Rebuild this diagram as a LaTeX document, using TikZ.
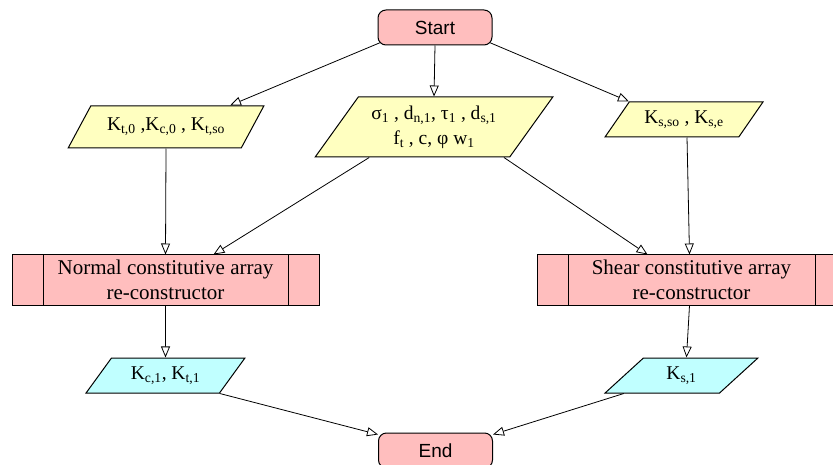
\documentclass[tikz,border=0pt]{standalone}
\usepackage{fontspec}
\setmainfont{Liberation Serif}
\newfontfamily\labelsans{Liberation Sans}
\usetikzlibrary{shapes.geometric,arrows.meta}

\definecolor{termpink}{RGB}{255,190,190}
\definecolor{inyellow}{RGB}{255,255,192}
\definecolor{outcyan}{RGB}{192,255,255}

\begin{document}
\begin{tikzpicture}[
    x=1pt, y=-1pt,
    terminal/.style={rectangle, rounded corners=8pt, draw, fill=termpink, line width=1pt,
      minimum width=114pt, minimum height=35pt, font=\labelsans\fontsize{19}{22}\selectfont},
    para/.style={trapezium, trapezium stretches=true, draw, line width=1pt, align=center,
      inner sep=1pt, font=\fontsize{19.5}{25}\selectfont},
    inpara/.style={para, fill=inyellow},
    outpara/.style={para, fill=outcyan},
    procbox/.style={rectangle, draw, fill=termpink, line width=1pt, align=center,
      minimum height=50pt, font=\fontsize{21}{25}\selectfont,
      path picture={
        \draw[line width=1pt] ([xshift=31pt]path picture bounding box.north west) -- ([xshift=31pt]path picture bounding box.south west);
        \draw[line width=1pt] ([xshift=-31pt]path picture bounding box.north east) -- ([xshift=-31pt]path picture bounding box.south east);
      }},
    flow/.style={-{Triangle[open, length=11pt, width=9pt]}, line width=0.8pt},
]
\clip (0,0) rectangle (833,465);

% terminals
\node[terminal] (start) at (435,27.5) {Start};
\node[terminal] (end) at (435.5,450.5) {End};

% input data
\node[inpara, trapezium left angle=48, trapezium right angle=132,
  minimum width=196pt, minimum height=42pt] (kin) at (166,127)
  {K\textsubscript{t,0} ,K\textsubscript{c,0} , K\textsubscript{t,so}};
\node[inpara, trapezium left angle=51, trapezium right angle=129,
  minimum width=238pt, minimum height=60pt] (mid) at (434,127)
  {σ\textsubscript{1} , d\textsubscript{n,1}, τ\textsubscript{1} , d\textsubscript{s,1}\\
   f\textsubscript{t} , c, φ w\textsubscript{1}};
\node[inpara, trapezium left angle=48, trapezium right angle=132,
  minimum width=158pt, minimum height=35pt] (kse) at (684,119.5)
  {K\textsubscript{s,so} , K\textsubscript{s,e}};

% array re-constructors
\node[procbox, minimum width=307pt] (normal) at (165.5,280)
  {Normal constitutive array\\re-constructor};
\node[procbox, minimum width=309pt] (shear) at (691.5,280)
  {Shear constitutive array\\re-constructor};

% output data
\node[outpara, trapezium left angle=50, trapezium right angle=130,
  minimum width=159pt, minimum height=35pt] (cout) at (165.5,375.5)
  {K\textsubscript{c,1}, K\textsubscript{t,1}};
\node[outpara, trapezium left angle=51, trapezium right angle=129,
  minimum width=153pt, minimum height=35pt] (sout) at (681.5,375.5)
  {K\textsubscript{s,1}};

% connectors
\draw[flow] ([xshift=3pt,yshift=3pt]start.south west) -- ([xshift=64pt]kin.north);
\draw[flow] (start.south) -- (mid.north);
\draw[flow] ([xshift=-3pt,yshift=3pt]start.south east) -- (kse.top left corner);
\draw[flow] (kin.south) -- (normal.north);
\draw[flow] ([xshift=55pt]mid.bottom left corner) -- ([xshift=48pt]normal.north);
\draw[flow] ([xshift=-6pt]mid.bottom right corner) -- ([xshift=-44pt]shear.north);
\draw[flow] ([xshift=3pt]kse.south) -- ([xshift=-2pt]shear.north);
\draw[flow] (normal.south) -- (cout.north);
\draw[flow] ([xshift=-2pt]shear.south) -- ([xshift=5pt]sout.north);
\draw[flow] (cout.bottom right corner) -- ([yshift=-2pt]end.north west);
\draw[flow] ([xshift=20pt]sout.bottom left corner) -- ([yshift=-2pt]end.north east);
\end{tikzpicture}
\end{document}
